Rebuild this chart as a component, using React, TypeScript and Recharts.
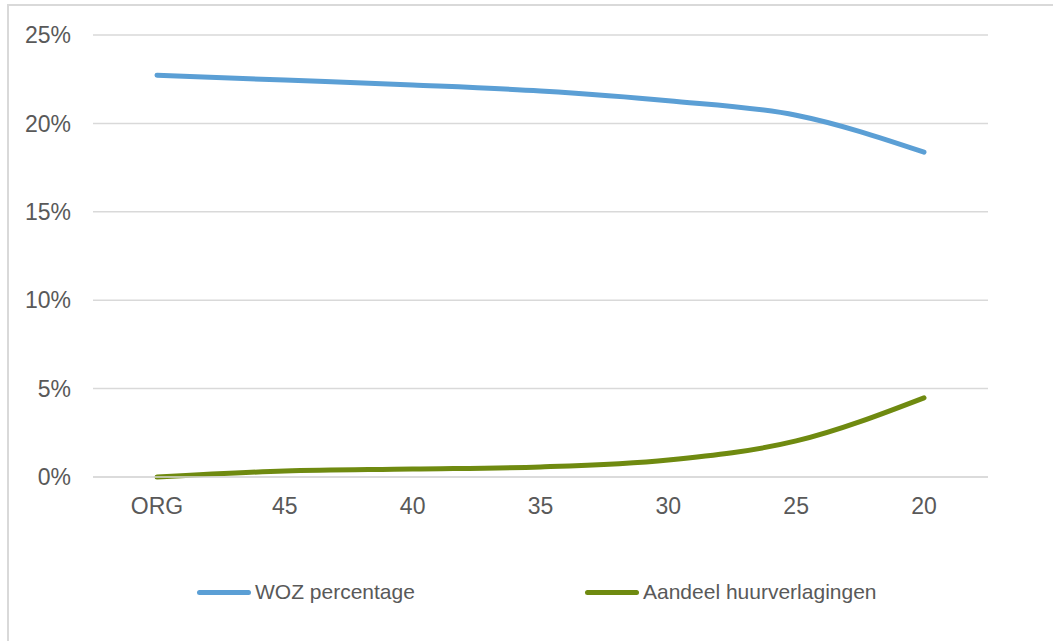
import React from 'react';
import { LineChart, Line, XAxis, YAxis, CartesianGrid, Legend } from 'recharts';

const categories = ['ORG', '45', '40', '35', '30', '25', '20'];
const wozPercentage = [0.2273, 0.2245, 0.2217, 0.2183, 0.2128, 0.2046, 0.1837];
const aandeelHuurverlagingen = [0, 0.0034, 0.0045, 0.0057, 0.0096, 0.0204, 0.0448];
const yTicks = [0, 0.05, 0.1, 0.15, 0.2, 0.25];

const data = categories.map((name, i) => ({
  name,
  woz: wozPercentage[i],
  aandeel: aandeelHuurverlagingen[i],
}));

const BLUE = '#5B9FD5';
const GREEN = '#6F8A10';
const TEXT = '#595959';

const renderLegend = () => {
  const items = [
    { label: 'WOZ percentage', color: BLUE, left: 188 },
    { label: 'Aandeel huurverlagingen', color: GREEN, left: 576 },
  ];
  return (
    <div style={{ position: 'relative', height: 30 }}>
      {items.map((it) => (
        <div
          key={it.label}
          style={{ position: 'absolute', left: it.left, top: 0, display: 'flex', alignItems: 'center' }}
        >
          <span style={{ display: 'inline-block', width: 54, height: 5, borderRadius: 3, background: it.color }} />
          <span style={{ marginLeft: 4, color: TEXT, fontSize: 21, fontFamily: '"Liberation Sans", Arial, sans-serif' }}>
            {it.label}
          </span>
        </div>
      ))}
    </div>
  );
};

const App: React.FC = () => {
  return (
    <div
      style={{
        position: 'absolute',
        top: 4,
        left: 7,
        border: '2px solid #d9d9d9',
        width: 1060,
        height: 660,
        background: '#fff',
        fontFamily: '"Liberation Sans", Arial, sans-serif',
      }}
    >
      <LineChart
        width={1045}
        height={640}
        data={data}
        margin={{ top: 29, right: 66, left: 0, bottom: 0 }}
      >
        <CartesianGrid vertical={false} stroke="#d9d9d9" strokeWidth={1.5} />
        <XAxis
          dataKey="name"
          padding={{ left: 64, right: 64 }}
          axisLine={{ stroke: '#d9d9d9', strokeWidth: 1.5 }}
          tickLine={false}
          tickSize={0}
          tickMargin={21}
          tick={{ fill: TEXT, fontSize: 23 }}
          height={139}
        />
        <YAxis
          width={84}
          domain={[0, 0.25]}
          ticks={yTicks}
          tickFormatter={(v: number) => `${Math.round(v * 100)}%`}
          axisLine={false}
          tickLine={false}
          tickSize={0}
          tickMargin={22}
          tick={{ fill: TEXT, fontSize: 23 }}
        />
        <Legend
          content={renderLegend}
          wrapperStyle={{ position: 'absolute', top: 574, left: 0, width: 1045, height: 30 }}
        />
        <Line
          type="monotone"
          dataKey="woz"
          name="WOZ percentage"
          stroke={BLUE}
          strokeWidth={5}
          strokeLinecap="round"
          dot={false}
          isAnimationActive={false}
        />
        <Line
          type="monotone"
          dataKey="aandeel"
          name="Aandeel huurverlagingen"
          stroke={GREEN}
          strokeWidth={5}
          strokeLinecap="round"
          dot={false}
          isAnimationActive={false}
        />
      </LineChart>
    </div>
  );
};

export default App;
